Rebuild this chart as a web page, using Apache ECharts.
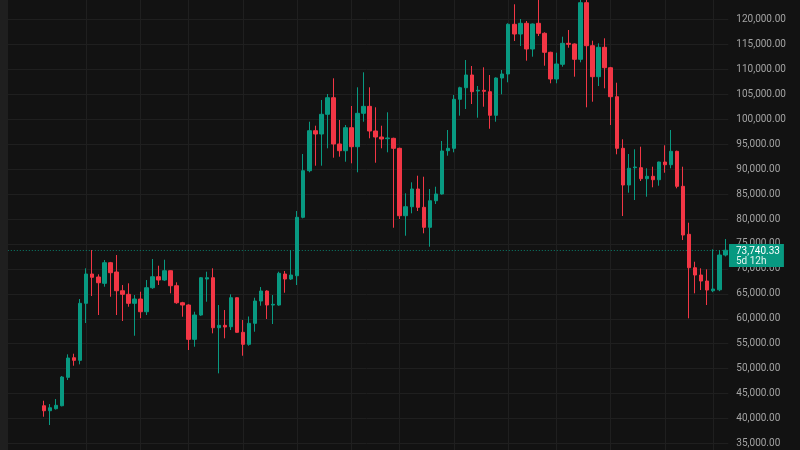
<!DOCTYPE html>
<html><head><meta charset="utf-8">
<script src="https://cdn.jsdelivr.net/npm/echarts@6/dist/echarts.min.js"></script>
<style>html,body{margin:0;padding:0;background:#121212;}#c{width:800px;height:450px;}</style>
</head><body><div id="c"></div>
<script>
// Weekly candles; first data week starts 2024-01-15 (6 empty weeks precede it on the time scale)
const firstWeek = '2023-12-04';
const padWeeks = 6;
const opens = [42567,41565,41966,42567,48261,52191,51670,63098,68973,68372,67109,71240,69374,65625,64903,63098,63960,61414,66226,68432,
67770,69635,66627,63219,62758,55880,60752,67970,68231,58206,58687,58406,64222,57284,54878,59088,63559,65564,62758,62758,
68973,67970,68632,80341,89685,97705,97043,100993,104321,95038,93694,98306,94497,101193,102587,97645,96441,96100,96180,94175,
80662,82467,86016,82347,78337,83669,85013,93694,94175,104000,106326,108872,105665,105805,105524,100793,108271,109073,119038,117093,
119238,114085,119238,117233,113424,108070,111018,115228,115088,112020,123369,114747,108532,114426,110336,104522,94175,86818,90287,90287,
88081,88562,87880,91429,90888,93574,86557,76933,70236,68773,67570,65625,65816,72782];
const closes = [41565,42166,42647,48321,52131,51670,63098,68973,68311,67229,71240,69235,65625,64903,63098,63960,61414,66226,68432,67770,
69635,66627,63219,62758,55880,60752,68231,68231,58206,58687,58345,64222,57284,54878,59088,63559,65564,62758,62898,69114,
67970,68772,80341,89685,97705,97043,100993,104321,95038,93694,98306,94497,101193,102587,97645,96441,96040,96241,94175,80662,
82467,86016,82347,78337,83669,85013,93635,94175,104000,106326,108872,105524,105805,105604,100793,108271,109073,119038,117093,119238,
114085,119098,117233,113424,108070,111078,115228,115027,112020,123369,114747,108532,114426,110336,104522,94175,86818,90167,90427,88081,
88562,87880,91429,90888,93574,86557,76793,70236,68773,67570,65765,65966,72782,73740.33];
const lows = [40361,38697,41800,42446,47720,50588,50868,59149,64562,60752,66427,64422,60752,59550,62417,56600,60120,60752,66000,66767,
67600,65104,63000,60411,53735,54397,60600,63420,57083,49060,56081,57745,57200,52592,54598,57404,62617,59950,58948,62617,
65224,67770,66767,80141,89364,90687,90687,94176,92291,92492,91489,91168,89364,99509,96181,91289,94176,93374,78256,79999,
76652,81143,81604,77134,74447,83008,84900,92693,93374,100722,102055,103058,100311,102517,98096,99509,105003,107409,115690,114687,
111740,112542,116692,110737,107209,107209,110537,114346,108532,111419,102397,103519,106667,106207,98848,92973,80602,85277,83808,87620,
84472,86357,86678,89284,90167,86156,75790,60091,65104,65765,62758,65334,65535,72492];
const highs = [43569,42908,43910,48522,52873,52993,63960,70116,73785,68913,71780,71400,72783,66767,67109,64763,65424,67770,71980,70637,
71840,69700,67310,63400,62900,61414,68372,69435,70116,62758,61755,64903,64300,59750,60462,64222,66366,65700,64763,69435,
69575,73785,81604,93033,99509,98707,103860,105063,108211,99850,98848,102657,106407,109414,106407,102397,98707,101394,96300,94300,
85153,87359,88682,88481,86016,86478,95641,97845,104862,106527,111880,110677,106667,110416,108872,108400,109875,119238,123048,120100,
119700,119200,124400,117434,113544,113343,116552,117895,115200,124200,126200,115750,115228,116231,110500,107329,95981,93033,93976,94497,
90167,90487,91489,94777,97845,93700,90487,79258,71439,70116,69916,73925,73785,75990];
const priceTicks = {min: 30000, max: 125000, step: 5000};
const lastPrice = 73740.33;
const lastPriceText = '73,740.33';
const countdownText = '5d 12h';

const UP = '#089981', DOWN = '#f23645';

// categories: weekly dates
const cats = [];
const base = new Date(firstWeek + 'T00:00:00Z');
const total = padWeeks + opens.length;
for (let i = 0; i < total; i++) {
  const d = new Date(base.getTime() + i * 7 * 86400000);
  cats.push(d.toISOString().slice(0, 10));
}
const candles = [];
for (let i = 0; i < padWeeks; i++) candles.push('-');
for (let i = 0; i < opens.length; i++) candles.push([opens[i], closes[i], lows[i], highs[i]]);

// vertical grid: first weekly bar of every odd month (within the data)
const vLines = [];
for (let i = padWeeks; i < total; i++) {
  const m = +cats[i].slice(5, 7), day = +cats[i].slice(8, 10);
  if (m % 2 === 1 && day <= 7) vLines.push(cats[i]);
}

const fmt = v => v.toLocaleString('en-US', {minimumFractionDigits: 2, maximumFractionDigits: 2});

const chart = echarts.init(document.getElementById('c'), null, {renderer: 'canvas'});
chart.setOption({
  backgroundColor: '#121212',
  animation: false,
  textStyle: {fontFamily: 'Roboto'},
  grid: {left: 4.81, right: 71.7, top: -5.44, bottom: -18.42, containLabel: false, outerBoundsMode: 'none'},
  xAxis: {
    type: 'category', data: cats, boundaryGap: true,
    axisLine: {show: false}, axisTick: {show: false}, axisLabel: {show: false}, splitLine: {show: false}
  },
  yAxis: {
    type: 'value', position: 'right', scale: true,
    min: priceTicks.min, max: priceTicks.max, interval: priceTicks.step,
    axisLine: {show: false}, axisTick: {show: false},
    axisLabel: {color: '#a3a3a3', fontSize: 10, fontFamily: 'Roboto', margin: 8, formatter: fmt},
    splitLine: {show: true, lineStyle: {color: '#1f1f1f', width: 1}}
  },
  series: [{
    type: 'candlestick',
    data: candles,
    barWidth: 4,
    itemStyle: {color: UP, color0: DOWN, borderColor: UP, borderColor0: DOWN, borderWidth: 1},
    markLine: {
      z: 1, silent: true, symbol: 'none', animation: false,
      label: {show: false},
      data: vLines.map(c => ({xAxis: c, lineStyle: {color: '#1f1f1f', width: 1, type: 'solid'}}))
        .concat([{yAxis: lastPrice, lineStyle: {color: UP, width: 1, type: [1, 2], opacity: 0.8}}])
    },
    markPoint: {
      silent: true, animation: false,
      data: [{
        coord: [cats[total - 1], lastPrice],
        symbol: 'rect', symbolSize: 2, itemStyle: {color: 'rgba(0,0,0,0)'},
        label: {
          show: true, position: [4.7, -5.2], align: 'left', verticalAlign: 'top',
          formatter: '{a|' + lastPriceText + '}\n{b|' + countdownText + '}',
          backgroundColor: UP, padding: [2, 4, 1, 7],
          rich: {
            a: {color: '#ffffff', fontSize: 10, fontFamily: 'Roboto', lineHeight: 10},
            b: {color: '#e3f3ef', fontSize: 10, fontFamily: 'Roboto', lineHeight: 10}
          }
        }
      }]
    }
  }],
  graphic: [{type: 'rect', left: 0, top: 0, z: 100, shape: {width: 8, height: 450}, style: {fill: '#1f1f1f'}}]
});
</script></body></html>
